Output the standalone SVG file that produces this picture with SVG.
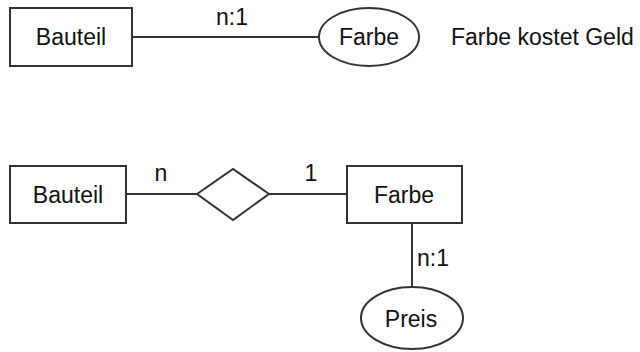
<svg xmlns="http://www.w3.org/2000/svg" width="640" height="352" viewBox="0 0 640 352">
<style>
.s{fill:#fff;stroke:#333;stroke-width:2}
.c{fill:none;stroke:#333;stroke-width:2}
text{font-family:"Liberation Sans",Arial,sans-serif;font-size:23px;fill:#111}
.m{text-anchor:middle}
</style>
<rect width="640" height="352" fill="#fff"/>
<g id="connectors">
<line class="c" x1="132" y1="37" x2="319" y2="37"/>
<line class="c" x1="126" y1="194" x2="197" y2="194"/>
<line class="c" x1="269" y1="194" x2="347" y2="194"/>
<line class="c" x1="412" y1="223" x2="412" y2="287"/>
<text class="m" x="232" y="25">n:1</text>
<text class="m" x="161" y="181">n</text>
<text class="m" x="311" y="181">1</text>
<text x="417" y="266">n:1</text>
</g>
<g id="bauteil1">
<rect class="s" x="10" y="8" width="122" height="58"/>
<text class="m" x="71" y="45">Bauteil</text>
</g>
<g id="farbe1">
<ellipse class="s" cx="369" cy="37" rx="50" ry="29"/>
<text class="m" x="369" y="45">Farbe</text>
</g>
<g id="note">
<text x="451" y="45">Farbe kostet Geld</text>
</g>
<g id="bauteil2">
<rect class="s" x="10" y="166" width="116" height="57"/>
<text class="m" x="68" y="203">Bauteil</text>
</g>
<g id="relation">
<polygon class="s" points="197,194 233,169 269,194 233,220"/>
</g>
<g id="farbe2">
<rect class="s" x="347" y="166" width="115" height="57"/>
<text class="m" x="404" y="203">Farbe</text>
</g>
<g id="preis">
<ellipse class="s" cx="412" cy="318" rx="51" ry="31"/>
<text class="m" x="411" y="327">Preis</text>
</g>
</svg>
